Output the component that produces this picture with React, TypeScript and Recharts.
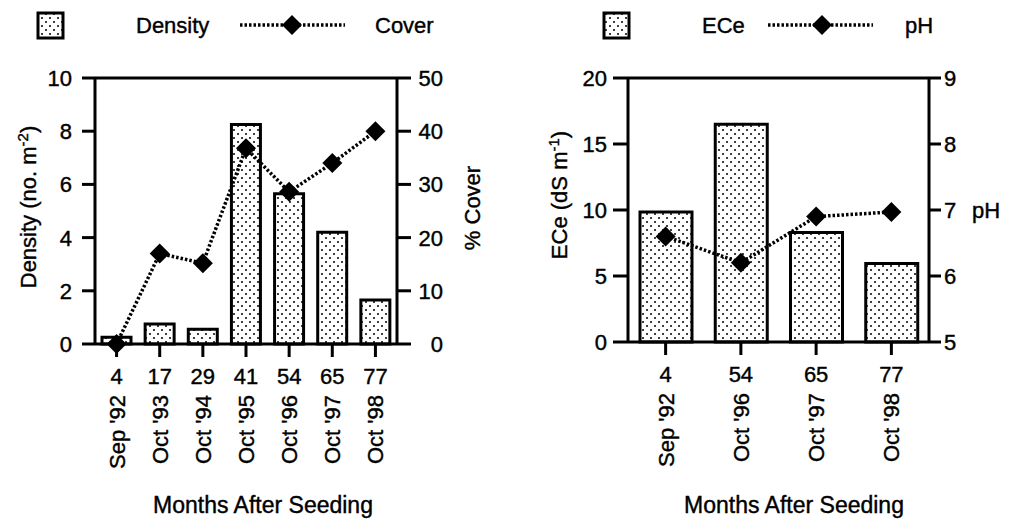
import React from "react"
import {
  ComposedChart,
  Bar,
  Line,
  XAxis,
  YAxis,
  ReferenceLine,
  Label,
} from "recharts"

const monthsA = ["4", "17", "29", "41", "54", "65", "77"]
const datesA = ["Sep '92", "Oct '93", "Oct '94", "Oct '95", "Oct '96", "Oct '97", "Oct '98"]
const density = [0.25, 0.75, 0.55, 8.25, 5.65, 4.2, 1.65]
const cover = [0, 17, 15.2, 36.8, 28.6, 34, 40]

const monthsB = ["4", "54", "65", "77"]
const datesB = ["Sep '92", "Oct '96", "Oct '97", "Oct '98"]
const ece = [9.85, 16.5, 8.3, 5.95]
const ph = [6.6, 6.2, 6.9, 6.97]

const densityTicks = [0, 2, 4, 6, 8, 10]
const coverTicks = [0, 10, 20, 30, 40, 50]
const eceTicks = [0, 5, 10, 15, 20]
const phTicks = [5, 6, 7, 8, 9]

const dataA = monthsA.map((m, i) => ({ month: m, density: density[i], cover: cover[i] }))
const dataB = monthsB.map((m, i) => ({ month: m, ece: ece[i], ph: ph[i] }))

const FONT = "'Liberation Sans', Arial, Helvetica, sans-serif"
const FS = 22
// scanned type looks heavier than the plain font
const TXT = { fontFamily: FONT, fontSize: FS, fill: "#000", stroke: "#000", strokeWidth: 0.4 }

const Dots = ({ id }: { id: string }) => (
  <defs>
    <pattern id={id} width="8" height="8" patternUnits="userSpaceOnUse">
      <rect width="8" height="8" fill="#fff" />
      <circle cx="2" cy="2" r="1" fill="#000" />
      <circle cx="6" cy="6" r="1" fill="#000" />
    </pattern>
  </defs>
)

const Diamond = (props: any) => {
  const { cx, cy } = props
  if (cx == null || cy == null) return null
  const h = 10
  return (
    <polygon
      points={`${cx},${cy - h} ${cx + h},${cy} ${cx},${cy + h} ${cx - h},${cy}`}
      fill="#000"
    />
  )
}

const XTick = (props: any) => {
  const { x, y, payload, dates } = props
  return (
    <g {...TXT}>
      <text x={x} y={y + 25} textAnchor="middle">
        {payload.value}
      </text>
      <text transform={`translate(${x + 8},${y + 36}) rotate(-90)`} textAnchor="end">
        {dates[payload.index]}
      </text>
    </g>
  )
}

const YTick = (props: any) => {
  const { x, y, payload, anchor, shift } = props
  return (
    <text x={x + (shift || 0)} y={y} dy="0.36em" textAnchor={anchor} {...TXT}>
      {payload.value}
    </text>
  )
}

const axisStyle = { stroke: "#000", strokeWidth: 3 }
const lineDash = "2.5 2"

const LegendRow = ({ x0, bar, line, pid }: { x0: number; bar: string; line: string; pid: string }) => {
  const [bx, tx, l1, l2, dx, t2] = x0 === 0 ? [38, 136, 240, 345, 292, 375] : [604, 702, 768, 873, 822, 905]
  return (
    <g>
      <Dots id={pid} />
      <rect x={bx} y={13} width={25} height={25} fill={`url(#${pid})`} stroke="#000" strokeWidth={3} />
      <text x={tx} y={33} {...TXT}>{bar}</text>
      <line x1={l1} x2={l2} y1={25} y2={25} stroke="#000" strokeWidth={3.5} strokeDasharray={lineDash} />
      <Diamond cx={dx} cy={25} />
      <text x={t2} y={33} {...TXT}>{line}</text>
    </g>
  )
}

export default function App() {
  return (
    <div
      style={{
        position: "absolute",
        left: 0,
        top: 0,
        width: 1011,
        height: 520,
        background: "#fff",
        fontFamily: FONT,
      }}
    >
      <svg width={1011} height={60} style={{ position: "absolute", left: 0, top: 0 }}>
        <LegendRow x0={0} bar="Density" line="Cover" pid="legA" />
        <LegendRow x0={505} bar="ECe" line="pH" pid="legB" />
      </svg>

      <div style={{ position: "absolute", left: 0, top: 0 }}>
        <ComposedChart
          width={505}
          height={520}
          data={dataA}
          margin={{ top: 78, right: 0, bottom: 0, left: 0 }}
          barSize={29}
        >
          <Dots id="dotsA" />
          <XAxis
            dataKey="month"
            height={176}
            tickSize={13}
            axisLine={axisStyle}
            tickLine={axisStyle}
            tick={<XTick dates={datesA} />}
            interval={0}
          >
            <Label
              content={() => (
                <text x={263} y={513} textAnchor="middle" {...TXT} fontSize={23}>
                  Months After Seeding
                </text>
              )}
            />
          </XAxis>
          <YAxis
            yAxisId="l"
            domain={[0, 10]}
            ticks={densityTicks}
            width={95}
            tickSize={13}
            tickMargin={10}
            axisLine={axisStyle}
            tickLine={axisStyle}
            tick={<YTick anchor="end" />}
          >
            <Label
              content={() => (
                <text transform="translate(36,207) rotate(-90)" textAnchor="middle" {...TXT}>
                  Density (no. m<tspan dy={-8} fontSize={15}>-2</tspan>
                  <tspan dy={8}>)</tspan>
                </text>
              )}
            />
          </YAxis>
          <YAxis
            yAxisId="r"
            orientation="right"
            domain={[0, 50]}
            ticks={coverTicks}
            width={108}
            tickSize={14}
            tickMargin={0}
            axisLine={axisStyle}
            tickLine={axisStyle}
            tick={<YTick anchor="end" shift={32} />}
          >
            <Label
              content={() => (
                <text transform="translate(480,208) rotate(-90)" textAnchor="middle" {...TXT}>
                  % Cover
                </text>
              )}
            />
          </YAxis>
          <ReferenceLine yAxisId="l" y={10} stroke="#000" strokeWidth={3} />
          <Bar
            yAxisId="l"
            dataKey="density"
            fill="url(#dotsA)"
            stroke="#000"
            strokeWidth={3}
            isAnimationActive={false}
          />
          <Line
            yAxisId="r"
            dataKey="cover"
            stroke="#000"
            strokeWidth={3.5}
            strokeDasharray={lineDash}
            dot={<Diamond />}
            activeDot={false}
            isAnimationActive={false}
          />
        </ComposedChart>
      </div>

      <div style={{ position: "absolute", left: 505, top: 0 }}>
        <ComposedChart
          width={506}
          height={520}
          data={dataB}
          margin={{ top: 78, right: 0, bottom: 0, left: 0 }}
          barSize={52}
        >
          <Dots id="dotsB" />
          <XAxis
            dataKey="month"
            height={178}
            tickSize={13}
            axisLine={axisStyle}
            tickLine={axisStyle}
            tick={<XTick dates={datesB} />}
            interval={0}
          >
            <Label
              content={() => (
                <text x={289} y={513} textAnchor="middle" {...TXT} fontSize={23}>
                  Months After Seeding
                </text>
              )}
            />
          </XAxis>
          <YAxis
            yAxisId="l"
            domain={[0, 20]}
            ticks={eceTicks}
            width={123}
            tickSize={15}
            tickMargin={6}
            axisLine={axisStyle}
            tickLine={axisStyle}
            tick={<YTick anchor="end" />}
          >
            <Label
              content={() => (
                <text transform="translate(62,195) rotate(-90)" textAnchor="middle" {...TXT}>
                  ECe (dS m<tspan dy={-8} fontSize={15}>-1</tspan>
                  <tspan dy={8}>)</tspan>
                </text>
              )}
            />
          </YAxis>
          <YAxis
            yAxisId="r"
            orientation="right"
            domain={[5, 9]}
            ticks={phTicks}
            width={82}
            tickSize={12}
            tickMargin={3}
            axisLine={axisStyle}
            tickLine={axisStyle}
            tick={<YTick anchor="start" />}
          >
            <Label
              content={() => (
                <text x={467} y={210} dy="0.36em" {...TXT}>
                  pH
                </text>
              )}
            />
          </YAxis>
          <ReferenceLine yAxisId="l" y={20} stroke="#000" strokeWidth={3} />
          <Bar
            yAxisId="l"
            dataKey="ece"
            fill="url(#dotsB)"
            stroke="#000"
            strokeWidth={3}
            isAnimationActive={false}
          />
          <Line
            yAxisId="r"
            dataKey="ph"
            stroke="#000"
            strokeWidth={3.5}
            strokeDasharray={lineDash}
            dot={<Diamond />}
            activeDot={false}
            isAnimationActive={false}
          />
        </ComposedChart>
      </div>
    </div>
  )
}
